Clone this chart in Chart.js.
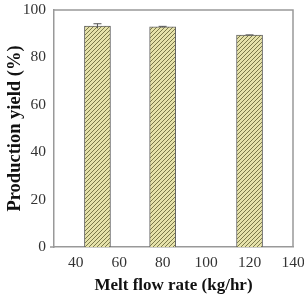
<!DOCTYPE html>
<html lang="en">
<head>
  <title>Production yield</title>
  <meta charset="utf-8">
  <script src="https://cdn.jsdelivr.net/npm/chart.js@4.4.0/dist/chart.umd.min.js"></script>
  <style type="text/css">
    html, body { margin: 0; padding: 0; background: #fff; }
    #wrap { width: 304px; height: 300px; }
  </style>
</head>
<body>
<div id="wrap"><canvas id="yield-canvas"></canvas></div>
<script type="text/javascript">
var flowRates = [50, 80, 120];
var yields = [93.2, 92.9, 89.4];
var yieldErr = [1.0, 0.2, 0.1];
var xTicks = [40, 60, 80, 100, 120, 140];
var yTicks = [0, 20, 40, 60, 80, 100];
var barSpan = 12; // bar width in kg/hr units

function makeHatch() {
  var c = document.createElement("canvas");
  c.width = 4; c.height = 4;
  var g = c.getContext("2d");
  g.fillStyle = "#e6e2aa";
  g.fillRect(0, 0, 4, 4);
  g.strokeStyle = "#6e6d40";
  g.lineWidth = 0.9;
  g.beginPath();
  g.moveTo(0, 4); g.lineTo(4, 0);
  g.moveTo(-1, 1); g.lineTo(1, -1);
  g.moveTo(3, 5); g.lineTo(5, 3);
  g.stroke();
  return g.createPattern(c, "repeat");
}

var errorBars = {
  id: "errorBars",
  afterDatasetsDraw: function(chart) {
    var ctx = chart.ctx, xs = chart.scales.x, ys = chart.scales.y;
    ctx.save();
    ctx.strokeStyle = "#555";
    ctx.lineWidth = 1;
    for (var i = 0; i < flowRates.length; i++) {
      var px = xs.getPixelForValue(flowRates[i]);
      var top = ys.getPixelForValue(yields[i] + yieldErr[i]);
      var bot = ys.getPixelForValue(yields[i] - yieldErr[i]);
      ctx.beginPath();
      ctx.moveTo(px, top); ctx.lineTo(px, bot);
      ctx.moveTo(px - 4, top); ctx.lineTo(px + 4, top);
      ctx.stroke();
    }
    ctx.restore();
  }
};

// top and right box lines, plus the small stub of the x axis left of the y axis
var frame = {
  id: "frame",
  afterDraw: function(chart) {
    var ctx = chart.ctx, a = chart.chartArea;
    ctx.save();
    ctx.strokeStyle = "#999";
    ctx.lineWidth = 1.5;
    ctx.beginPath();
    ctx.moveTo(a.left, a.top); ctx.lineTo(a.right, a.top); ctx.lineTo(a.right, a.bottom);
    ctx.moveTo(a.left - 4, a.bottom); ctx.lineTo(a.left, a.bottom);
    ctx.stroke();
    ctx.restore();
  }
};

var ctx = document.getElementById("yield-canvas").getContext("2d");
new Chart(ctx, {
  type: "bar",
  data: {
    datasets: [{
      data: flowRates.map(function(v, i) { return { x: v, y: yields[i] }; }),
      backgroundColor: makeHatch(),
      borderColor: "#666",
      borderWidth: 1,
      barThickness: function(c) {
        var xs = c.chart.scales.x;
        return Math.abs(xs.getPixelForValue(barSpan) - xs.getPixelForValue(0));
      }
    }]
  },
  options: {
    responsive: true,
    maintainAspectRatio: false,
    animation: false,
    layout: { padding: { top: 10, right: 11, left: 0, bottom: 0 } },
    plugins: { legend: { display: false }, tooltip: { enabled: false } },
    scales: {
      x: {
        type: "linear",
        offset: false,
        min: 30, max: 140,
        afterBuildTicks: function(s) { s.ticks = xTicks.map(function(v) { return { value: v }; }); },
        afterFit: function(s) { s.height = 53; s.paddingLeft = 0; s.paddingRight = 0; },
        grid: { display: false, offset: false, drawTicks: true, tickLength: 5, tickColor: "#999" },
        border: { color: "#999", width: 1.5 },
        ticks: { color: "#333", font: { family: "Liberation Serif", size: 15.5 }, padding: 2, maxRotation: 0 },
        title: { display: true, text: "Melt flow rate (kg/hr)", color: "#111", font: { family: "Liberation Serif", size: 17, weight: "bold" }, padding: { top: 1 } }
      },
      y: {
        min: 0, max: 100,
        afterBuildTicks: function(s) { s.ticks = yTicks.map(function(v) { return { value: v }; }); },
        afterFit: function(s) { s.width = 54; s.paddingTop = 0; s.paddingBottom = 0; },
        grid: { display: false, drawTicks: true, tickLength: 5, tickColor: "#999" },
        border: { color: "#999", width: 1.5 },
        ticks: { color: "#333", font: { family: "Liberation Serif", size: 15.5 }, padding: 3 },
        title: { display: true, text: "Production yield (%)", color: "#111", font: { family: "Liberation Serif", size: 18.5, weight: "bold" }, padding: { bottom: 1 } }
      }
    }
  },
  plugins: [errorBars, frame]
});
</script>
</body>
</html>
